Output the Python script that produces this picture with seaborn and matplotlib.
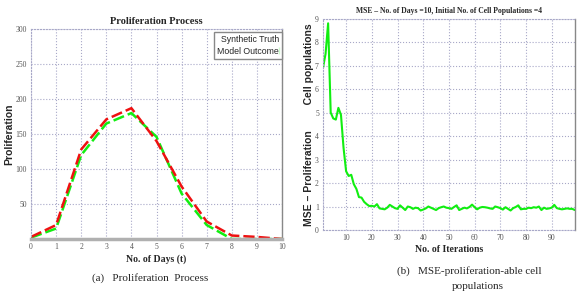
import numpy as np
import pandas as pd
import matplotlib
matplotlib.use('Agg')
import matplotlib.pyplot as plt
import seaborn as sns

# datos panel (a)
dias = [0, 1, 2, 3, 4, 5, 6, 7, 8, 9, 10]
synthetic_truth = [3, 20, 128, 171, 187, 140, 75, 25, 5, 3, 0]
model_outcome = [2, 15, 120, 165, 180, 146, 65, 20, 0, 0, 0]

# datos panel (b)
iteraciones = list(range(1, 100))
mse = [6.9, 7.5, 8.8, 5.0, 4.75, 4.7, 5.2, 4.9, 3.5, 2.5,
       2.3, 2.35, 1.95, 1.75, 1.4, 1.38, 1.2, 1.1, 1.02, 1.03,
       1.0, 1.1, 0.92, 0.9, 0.88, 0.95, 1.07, 1.0, 0.93, 0.9,
       1.05, 0.95, 0.85, 1.0, 0.97, 0.9, 0.95, 0.93, 0.83, 0.87,
       0.92, 1.0, 0.95, 0.9, 0.85, 0.93, 0.97, 1.0, 0.95, 0.93,
       0.9, 0.98, 1.05, 0.85, 0.9, 0.95, 0.92, 0.98, 1.08, 0.97,
       0.88, 0.95, 0.98, 0.97, 0.95, 0.92, 0.9, 1.0, 0.97, 0.93,
       0.87, 0.97, 0.9, 0.83, 0.93, 0.98, 1.05, 0.88, 0.9, 0.9,
       0.95, 0.93, 0.97, 0.95, 1.0, 0.85, 0.95, 0.9, 0.92, 0.95,
       1.07, 0.93, 0.9, 0.88, 0.9, 0.92, 0.9, 0.9, 0.85]

sns.set_style('white')
plt.rcParams['font.family'] = ['Liberation Serif', 'DejaVu Serif']

grid_col = '#a8a8c8'
tick_col = '#555555'
sans = ['Liberation Sans', 'DejaVu Sans']

fig = plt.figure(figsize=(5.83, 2.94), dpi=100)
ax1 = fig.add_axes([0.0532, 0.187, 0.4305, 0.714])
ax2 = fig.add_axes([0.554, 0.2177, 0.432, 0.719])

df = pd.DataFrame({
    'dia': dias * 2,
    'valor': model_outcome + synthetic_truth,
    'serie': ['Model Outcome'] * len(dias) + ['Synthetic Truth'] * len(dias),
})
sns.lineplot(data=df, x='dia', y='valor', hue='serie', style='serie',
             palette={'Model Outcome': '#11ee11', 'Synthetic Truth': '#ee1111'},
             dashes={'Model Outcome': (4.5, 1.6), 'Synthetic Truth': (4.5, 1.6)},
             linewidth=1.8, legend=False, ax=ax1)

ax1.set_xlim(0, 10)
ax1.set_ylim(0, 300)
ax1.set_xticks(range(0, 11))
ax1.set_yticks([50, 100, 150, 200, 250, 300])
ax1.set_title('Proliferation Process', fontsize=7.5, fontweight='bold', pad=4)
ax1.set_xlabel('No. of Days (t)', fontsize=7, fontweight='bold', labelpad=2)
ax1.set_ylabel('Proliferation', fontsize=7.5, fontweight='bold', family=sans, labelpad=1)
ax1.legend(['Synthetic Truth', 'Model Outcome'], handlelength=0, handletextpad=0,
           markerfirst=False, loc='upper right', bbox_to_anchor=(1.0, 0.985),
           fancybox=False, framealpha=1, edgecolor='#888888', borderaxespad=0,
           prop={'family': sans, 'size': 6.3},
           labelspacing=0.25, borderpad=0.35)

sns.lineplot(x=iteraciones, y=mse, color='#11ee11', linewidth=1.5, ax=ax2)
ax2.set_xlim(1, 99)
ax2.set_ylim(0, 9)
ax2.set_xticks(range(10, 100, 10))
ax2.set_yticks(range(0, 10))
ax2.set_title('MSE \u2013 No. of Days =10, Initial No. of Cell Populations =4',
              fontsize=5.5, fontweight='bold', pad=4)
ax2.set_xlabel('No. of Iterations', fontsize=7, fontweight='bold', labelpad=2)
ax2.set_ylabel('MSE \u2013 Proliferation         Cell populations', fontsize=7.5,
               fontweight='bold', family=sans, labelpad=0.5)

for ax in (ax1, ax2):
    ax.grid(True, linestyle=':', color=grid_col, linewidth=0.8)
    ax.tick_params(labelsize=5.5, colors=tick_col, length=0, pad=3)
    for s in ('left', 'top'):
        ax.spines[s].set_linestyle(':')
        ax.spines[s].set_color(grid_col)
        ax.spines[s].set_linewidth(0.8)
    ax.spines['right'].set_color('#888888')
    ax.spines['right'].set_linewidth(1.0)

ax1.spines['bottom'].set_color('#b0b0b0')
ax1.spines['bottom'].set_linewidth(2.5)
ax2.spines['bottom'].set_linestyle(':')
ax2.spines['bottom'].set_color(grid_col)
ax2.spines['bottom'].set_linewidth(0.8)

fig.text(0.257, 0.054, '(a)   Proliferation  Process', ha='center', va='center', fontsize=8)
fig.text(0.805, 0.079, '(b)   MSE-proliferation-able cell', ha='center', va='center', fontsize=8)
fig.text(0.82, 0.025, 'populations', ha='center', va='center', fontsize=8)

plt.savefig('out.png', dpi=100)
